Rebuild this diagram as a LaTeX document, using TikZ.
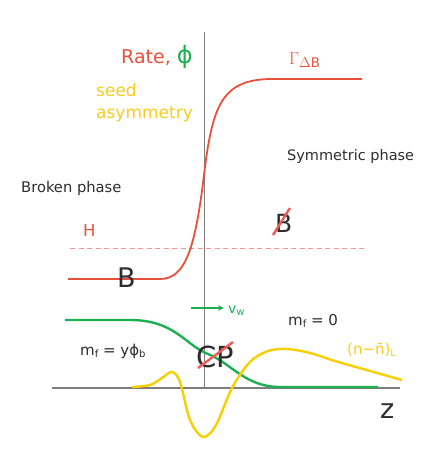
\documentclass[tikz,border=0pt]{standalone}
\usepackage{fontspec}
\setmainfont{DejaVu Sans}
\usetikzlibrary{arrows.meta}
\definecolor{cred}{RGB}{232,80,60}
\definecolor{cpink}{RGB}{245,150,150}
\definecolor{cslash}{RGB}{238,90,90}
\definecolor{cgreen}{RGB}{30,176,80}
\definecolor{cyellow}{RGB}{246,208,0}
\definecolor{cytext}{RGB}{247,204,30}
\definecolor{cdark}{RGB}{45,45,45}
\definecolor{caxis}{RGB}{125,125,125}
\newcommand{\fs}[1]{\fontsize{#1}{#1}\selectfont}
\newcommand{\mysub}[1]{\raisebox{-0.35ex}{\fs{10}#1}}
\begin{document}
\begin{tikzpicture}[x=1pt,y=-1pt,
  lbl/.style={inner sep=0pt, anchor=base west, text=cdark},
  axisline/.style={draw=caxis, line width=1.2pt},
  redcurve/.style={draw=cred, line width=1.8pt},
  greencurve/.style={draw=cgreen, line width=2.4pt},
  yellowcurve/.style={draw=cyellow, line width=2.4pt},
  slashline/.style={draw=cslash, line width=2.4pt},
  hline/.style={draw=cpink, line width=1pt, dash pattern=on 5pt off 3.5pt}]
\useasboundingbox (0,0) rectangle (437,472);
% axes
\coordinate (vtop) at (204.5,32);
\coordinate (vbot) at (204.5,388);
\coordinate (hl) at (52,388);
\coordinate (hr) at (400,388);
\draw[axisline] (vtop) -- (vbot);
\draw[axisline] (hl) -- (hr);
% dashed H line
\coordinate (hs) at (70,248);
\coordinate (he) at (367,248);
\draw[hline] (hs) -- (he);
% red rate curve
\draw[redcurve] (68,279) -- (160,279) .. controls (185,279) and (195,250) .. (204,175)
  .. controls (212.4,105) and (222,80) .. (270,79) -- (362,79);
% green curve
\draw[greencurve] (65,320) -- (130,320) .. controls (175,320) and (185,345) .. (208,354)
  .. controls (231,363) and (245,387) .. (280,387) -- (378,387);
% yellow curve
\draw[yellowcurve] plot[smooth, tension=0.55] coordinates {(132,387) (150,385) (162,378) (172,372) (180,382) (190,420) (203,437) (216,425) (232,388) (250,362) (268,351) (287,349) (310,353) (335,361) (363,369) (402,380)};
% labels
\node[lbl] (rate) at (121,63.5) {\fs{19}{\color{cred}Rate,} {\color{cgreen}\fs{24}ϕ}};
\node[lbl, text=cred] (gamma) at (289,64) {\fs{19}$\Gamma_{\Delta\mathrm{B}}$};
\node[lbl, text=cytext] (seed) at (96,96) {\fs{17}seed};
\node[lbl, text=cytext] (asym) at (96,118) {\fs{17}asymmetry};
\node[lbl] (sym) at (287,160.5) {\fs{14.5}Symmetric phase};
\node[lbl] (broken) at (21,192) {\fs{14.7}Broken phase};
\node[lbl, text=cred] (hlab) at (83,236) {\fs{16.5}H};
\node[lbl] (blab) at (117,287) {\fs{27}B};
\node[lbl] (bslash) at (275,232) {\fs{25}B};
\node[lbl, text=cgreen] (vw) at (228,313) {\fs{14}v\mysub{w}};
\node[lbl] (mf0) at (288,325) {\fs{15}m\mysub{f} = 0};
\node[lbl] (mfy) at (80,355) {\fs{15}m\mysub{f} = yϕ\mysub{b}};
\node[lbl] (cp) at (196,367) {\fs{29}CP};
\node[lbl, text=cytext] (nnl) at (347,354) {\fs{15}(n−\={n})\mysub{L}};
\node[lbl] (zlab) at (380,418) {\fs{27}z};
% slashes
\draw[slashline] (273,235) -- (290,208);
\draw[slashline] (198,368) -- (233,342);
% v_w arrow
\coordinate (vwtail) at (191,308);
\coordinate (vwhead) at (224,308);
\draw[draw=cgreen, line width=1.5pt, -{Stealth[length=6pt,width=5.5pt]}] (vwtail) -- (vwhead);
\end{tikzpicture}
\end{document}
